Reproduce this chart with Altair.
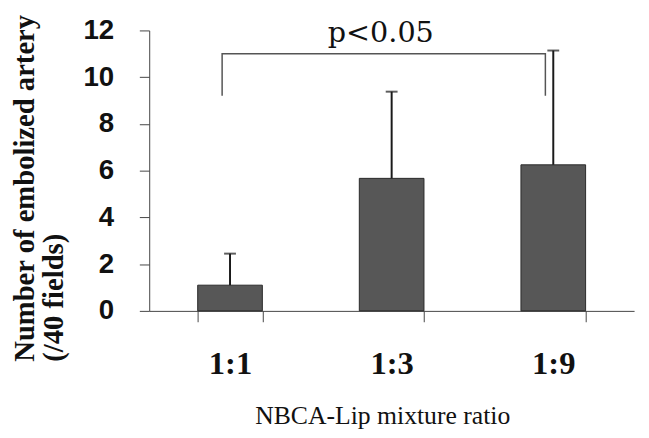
import altair as alt
import pandas as pd

categories = ["1:1", "1:3", "1:9"]
means = [1.1, 5.67, 6.25]
err_tops = [2.45, 9.38, 11.14]

bracket_x = ["1:1", "1:1", "1:9", "1:9"]
bracket_y = [9.2, 11.0, 11.0, 9.2]
bracket_order = [0, 1, 2, 3]

annot_x = ["1:3"]
annot_y = [11.5]
annot_text = ["p<0.05"]

y_ticks = [0, 2, 4, 6, 8, 10, 12]

bars_df = pd.DataFrame({"ratio": categories, "mean": means, "top": err_tops})
bracket_df = pd.DataFrame({"ratio": bracket_x, "y": bracket_y, "o": bracket_order})
annot_df = pd.DataFrame({"ratio": annot_x, "y": annot_y, "t": annot_text})

x_scale = alt.Scale(domain=categories, paddingInner=0.6, paddingOuter=0.3)
y_scale = alt.Scale(domain=[0, 12], nice=False)

x_axis = alt.Axis(
    title="NBCA-Lip mixture ratio",
    labelAngle=0,
    labelFont="Liberation Serif",
    labelFontWeight="bold",
    labelFontSize=33,
    labelColor="#111",
    labelPadding=26,
    tickBand="extent",
    tickSize=11,
    tickColor="#444",
    domainColor="#444",
    titleFont="Liberation Serif",
    titleFontWeight="normal",
    titleFontSize=26,
    titleColor="#111",
    titleX=236,
    titleY=93,
    titleBaseline="top",
    titleAlign="center",
)

y_axis = alt.Axis(
    title=["Number of embolized artery", "(/40 fields)"],
    values=y_ticks,
    grid=False,
    labelFont="Liberation Sans",
    labelFontWeight="bold",
    labelFontSize=28,
    labelColor="#111",
    labelPadding=26,
    tickSize=10,
    tickColor="#444",
    domainColor="#444",
    titleFont="Liberation Serif",
    titleFontWeight="bold",
    titleFontSize=29,
    titleLineHeight=29,
    titleColor="#111",
    titleAngle=-90,
    titleAlign="left",
    titleBaseline="top",
    titleX=-140,
    titleY=335,
)

base_x = alt.X("ratio:N", scale=x_scale, axis=x_axis, sort=categories)

bars = alt.Chart(bars_df).mark_bar(color="#575757", stroke="#2a2a2a", strokeWidth=1).encode(
    x=base_x,
    y=alt.Y("mean:Q", scale=y_scale, axis=y_axis),
)

err = alt.Chart(bars_df).mark_rule(color="#1a1a1a", strokeWidth=2).encode(
    x=alt.X("ratio:N", scale=x_scale, sort=categories),
    y=alt.Y("mean:Q", scale=y_scale),
    y2="top:Q",
)

caps = alt.Chart(bars_df).mark_tick(color="#1a1a1a", thickness=2, size=12).encode(
    x=alt.X("ratio:N", scale=x_scale, sort=categories),
    y=alt.Y("top:Q", scale=y_scale),
)

bracket = alt.Chart(bracket_df).mark_line(color="#555", strokeWidth=1.5, xOffset=-8).encode(
    x=alt.X("ratio:N", scale=x_scale, sort=categories),
    y=alt.Y("y:Q", scale=y_scale),
    order="o:Q",
)

annot = alt.Chart(annot_df).mark_text(
    font="DejaVu Serif", fontSize=29, color="#111", baseline="alphabetic", align="center", dx=-11
).encode(
    x=alt.X("ratio:N", scale=x_scale, sort=categories),
    y=alt.Y("y:Q", scale=y_scale),
    text="t:N",
)

chart = (
    alt.layer(bars, err, caps, bracket, annot)
    .properties(
        width=491,
        height=284,
        padding={"left": 143, "top": 20, "right": 7, "bottom": 126},
        autosize=alt.AutoSizeParams(type="none"),
        background="white",
    )
    .configure_view(strokeWidth=0, stroke="transparent")
)

chart.save("out.html", embed_options={"renderer": "svg", "actions": False})
